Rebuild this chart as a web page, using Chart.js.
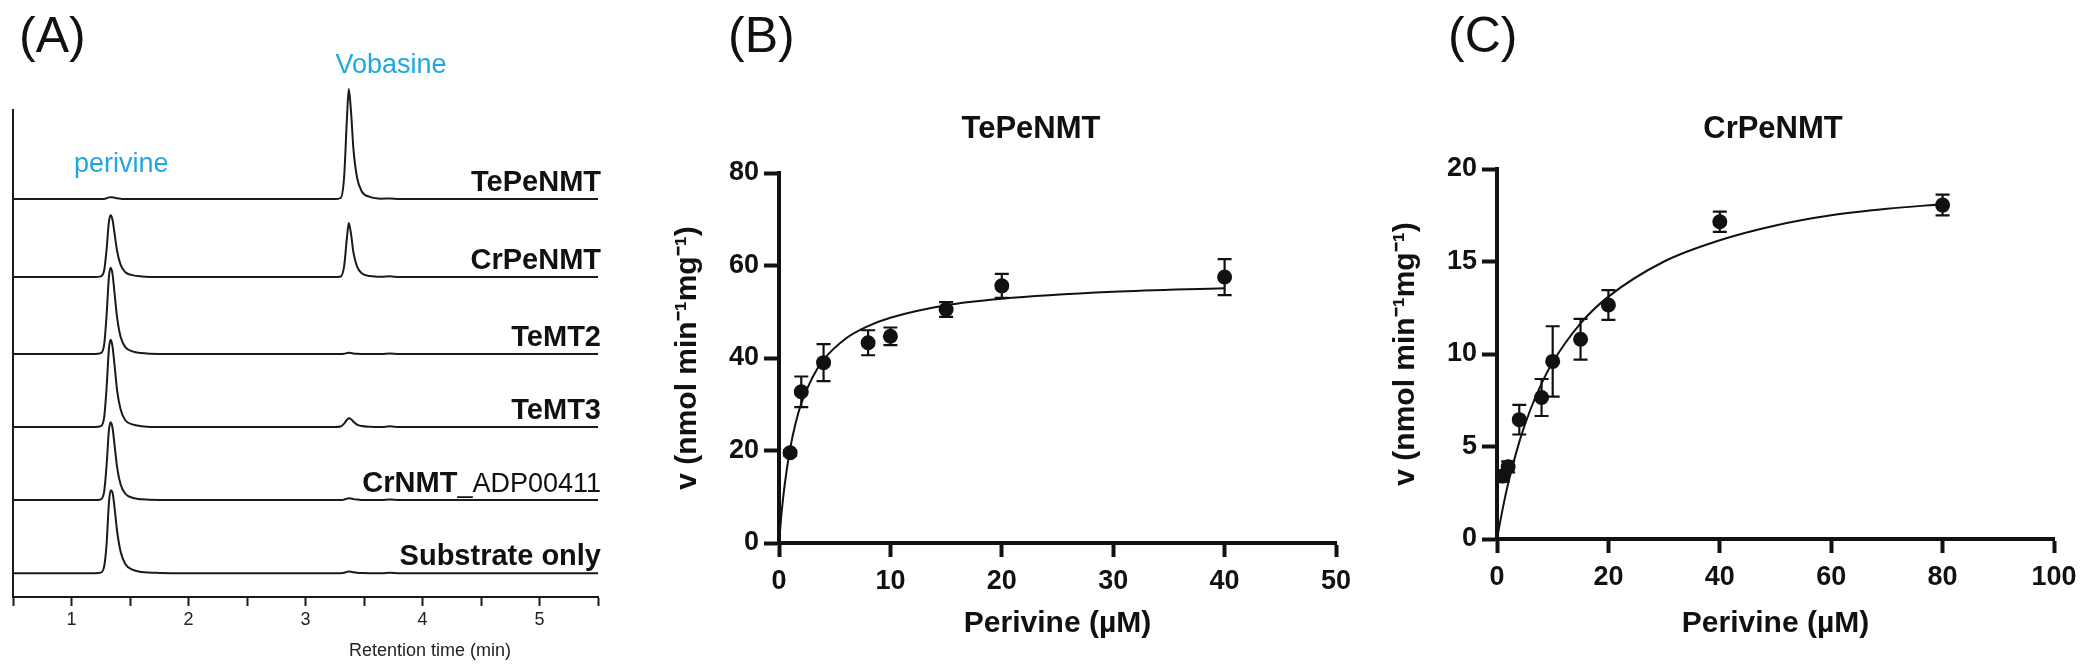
<!DOCTYPE html>
<html>
<head>
<meta charset="utf-8">
<script src="https://cdn.jsdelivr.net/npm/chart.js@4.4.1/dist/chart.umd.min.js"></script>
<style>
  html, body { margin: 0; padding: 0; background: #fff; }
  body { width: 2089px; height: 672px; position: relative; overflow: hidden; }
  .panel { position: absolute; top: 0; height: 672px; }
  #panelA { left: 0; width: 620px; }
  #panelB { left: 640px; width: 720px; }
  #panelC { left: 1360px; width: 729px; }
</style>
</head>
<body>
<div class="panel" id="panelA"><canvas id="chartA"></canvas></div>
<div class="panel" id="panelB"><canvas id="chartB"></canvas></div>
<div class="panel" id="panelC"><canvas id="chartC"></canvas></div>
<script>
// ---- (A) chromatograms: retention time (min) and trace signal (a.u.) ----
const retentionTime = [0.5, 1.2, 1.25, 1.28, 1.3, 1.32, 1.335, 1.35, 1.37, 1.39, 1.42, 1.46, 1.52, 1.6, 1.75, 2.0,
  3.25, 3.3, 3.33, 3.355, 3.37, 3.39, 3.41, 3.44, 3.48, 3.55, 3.65, 3.72, 3.8, 5.5];
const traceNames = ["TePeNMT", "CrPeNMT", "TeMT2", "TeMT3", "CrNMT_ADP00411", "Substrate only"];
const traceOffsets = [81.7, 65.7, 49.9, 34.9, 19.9, 4.9];
const traceTePeNMT = [0, 0, 0, 0.05, 0.18, 0.36, 0.4, 0.37, 0.27, 0.17, 0.08, 0.03, 0.01, 0, 0, 0,
  0, 0.23, 4.5, 17.0, 22.6, 17.6, 10.2, 4.5, 1.6, 0.45, 0.1, 0.15, 0, 0];
const traceCrPeNMT = [0, 0, 0.13, 1.5, 5.7, 11.4, 12.7, 11.8, 8.6, 5.3, 2.5, 1.0, 0.4, 0.13, 0, 0,
  0, 0.11, 2.2, 8.3, 11.1, 8.7, 5.0, 2.2, 0.8, 0.22, 0.06, 0.15, 0, 0];
const traceTeMT2 = [0, 0, 0.18, 2.1, 8.0, 15.9, 17.7, 16.5, 12.0, 7.4, 3.5, 1.4, 0.53, 0.18, 0, 0,
  0, 0, 0.05, 0.19, 0.25, 0.2, 0.11, 0.05, 0.02, 0, 0, 0.1, 0, 0];
const traceTeMT3 = [0, 0, 0.18, 2.15, 8.1, 16.1, 17.9, 16.6, 12.2, 7.5, 3.6, 1.4, 0.54, 0.18, 0, 0,
  0, 0.1, 0.7, 1.5, 1.8, 1.6, 1.1, 0.5, 0.2, 0.05, 0, 0.15, 0, 0];
const traceCrNMT = [0, 0, 0.16, 1.9, 7.2, 14.4, 16.0, 14.9, 10.9, 6.7, 3.2, 1.3, 0.48, 0.16, 0, 0,
  0, 0, 0.1, 0.3, 0.4, 0.32, 0.2, 0.1, 0.03, 0, 0, 0.1, 0, 0];
const traceSubstrate = [0, 0, 0.1, 1.5, 6.0, 14.5, 17.0, 16.6, 13.0, 8.6, 4.4, 1.9, 0.7, 0.25, 0.05, 0,
  0, 0, 0.07, 0.26, 0.35, 0.27, 0.16, 0.07, 0.02, 0, 0, 0.1, 0, 0];
const traceSignals = [traceTePeNMT, traceCrPeNMT, traceTeMT2, traceTeMT3, traceCrNMT, traceSubstrate];

// ---- (B) TePeNMT kinetics ----
const tepenmtConc = [1, 2, 4, 8, 10, 15, 20, 40];
const tepenmtRate = [19.5, 32.7, 39.0, 43.3, 44.7, 50.5, 55.6, 57.5];
const tepenmtErr = [0.6, 3.3, 4.0, 2.7, 1.9, 1.6, 2.6, 3.9];
const tepenmtFitX = [0, 0.25, 0.5, 1, 1.5, 2, 3, 4, 6, 8, 10, 15, 20, 30, 40];
const tepenmtFitY = [0, 7.0, 12.4, 20.4, 26.0, 30.2, 35.8, 39.6, 44.2, 46.9, 48.7, 51.4, 52.8, 54.3, 55.1];

// ---- (C) CrPeNMT kinetics ----
const crpenmtConc = [1, 2, 4, 8, 10, 15, 20, 40, 80];
const crpenmtRate = [3.4, 3.9, 6.45, 7.65, 9.6, 10.8, 12.65, 17.15, 18.05];
const crpenmtErr = [0.3, 0.3, 0.8, 1.0, 1.9, 1.1, 0.8, 0.55, 0.56];
const crpenmtFitX = [0, 1, 2, 4, 6, 8, 10, 15, 20, 30, 40, 50, 60, 70, 80];
const crpenmtFitY = [0, 1.6, 3.0, 5.25, 7.0, 8.4, 9.55, 11.65, 13.1, 15.0, 16.15, 16.95, 17.5, 17.85, 18.1];

const FONT = "'Liberation Sans', Arial, Helvetica, sans-serif";
const INK = "#111111";
const BLUE = "#1ea8e0";

Chart.defaults.font.family = FONT;
Chart.defaults.color = INK;
Chart.defaults.animation = false;
Chart.defaults.events = [];
Chart.defaults.plugins.legend.display = false;
Chart.defaults.plugins.tooltip.enabled = false;

// free text drawn on top of a chart
function textPlugin(items) {
  return {
    id: "panelText",
    afterDraw(chart) {
      const ctx = chart.ctx;
      ctx.save();
      items.forEach(t => {
        ctx.font = t.font;
        ctx.fillStyle = t.color || INK;
        ctx.textAlign = t.align || "left";
        ctx.textBaseline = "alphabetic";
        ctx.fillText(t.text, t.x, t.y);
      });
      ctx.restore();
    }
  };
}

function errorBarPlugin(conc, rate, err) {
  return {
    id: "errorBars",
    beforeDatasetsDraw(chart) {
      const {ctx, scales: {x, y}} = chart;
      ctx.save();
      ctx.strokeStyle = INK;
      ctx.lineWidth = 2.2;
      conc.forEach((c, i) => {
        const px = x.getPixelForValue(c);
        const top = y.getPixelForValue(rate[i] + err[i]);
        const bot = y.getPixelForValue(rate[i] - err[i]);
        ctx.beginPath();
        ctx.moveTo(px, top); ctx.lineTo(px, bot);
        ctx.moveTo(px - 7, top); ctx.lineTo(px + 7, top);
        ctx.moveTo(px - 7, bot); ctx.lineTo(px + 7, bot);
        ctx.stroke();
      });
      ctx.restore();
    }
  };
}

const traceLabels = {
  id: "traceLabels",
  afterDraw(chart) {
    const {ctx, scales: {y}} = chart;
    const right = 601;
    ctx.save();
    ctx.fillStyle = INK;
    ctx.textAlign = "right";
    ctx.textBaseline = "alphabetic";
    traceNames.forEach((name, i) => {
      const py = y.getPixelForValue(traceOffsets[i]) - 8;
      if (name.indexOf("_") > 0) {
        const parts = name.split("_");
        const tail = "_" + parts[1];
        ctx.font = "27px " + FONT;
        ctx.fillText(tail, right, py);
        const w = ctx.measureText(tail).width;
        ctx.font = "bold 29px " + FONT;
        ctx.fillText(parts[0], right - w, py);
      } else {
        ctx.font = "bold 29px " + FONT;
        ctx.fillText(name, right, py);
      }
    });
    ctx.restore();
  }
};

new Chart(document.getElementById("chartA"), {
  type: "line",
  data: {
    datasets: traceSignals.map((sig, i) => ({
      label: traceNames[i],
      data: retentionTime.map((t, j) => ({x: t, y: traceOffsets[i] + sig[j]})),
      borderColor: "#1a1a1a",
      borderWidth: 2,
      pointRadius: 0,
      cubicInterpolationMode: "monotone",
      clip: false
    }))
  },
  options: {
    responsive: true,
    maintainAspectRatio: false,
    layout: {padding: {top: 110, right: 22, bottom: 0, left: 0}},
    scales: {
      x: {
        type: "linear", min: 0.5, max: 5.5,
        ticks: {
          stepSize: 0.5, autoSkip: false, maxRotation: 0, padding: 3,
          font: {size: 18}, color: "#222",
          callback: v => Math.abs(v - Math.round(v)) < 1e-6 ? String(Math.round(v)) : ""
        },
        grid: {drawOnChartArea: false, tickLength: 9, tickWidth: 2, tickColor: "#1a1a1a"},
        border: {color: "#1a1a1a", width: 2},
        afterFit: s => { s.height = 75; }
      },
      y: {
        min: 0, max: 100,
        ticks: {display: false},
        grid: {display: false},
        border: {color: "#1a1a1a", width: 2},
        afterFit: s => { s.width = 13; }
      }
    }
  },
  plugins: [traceLabels, textPlugin([
    {text: "(A)", x: 19, y: 52, font: "50px " + FONT},
    {text: "Vobasine", x: 391, y: 73, font: "27px " + FONT, color: BLUE, align: "center"},
    {text: "perivine", x: 74, y: 172, font: "27px " + FONT, color: BLUE},
    {text: "Retention time (min)", x: 430, y: 656, font: "18px " + FONT, color: "#222", align: "center"}
  ])]
});

function kineticsChart(id, opts) {
  return new Chart(document.getElementById(id), {
    type: "scatter",
    data: {
      datasets: [
        {
          label: "data",
          data: opts.conc.map((c, i) => ({x: c, y: opts.rate[i]})),
          pointRadius: 7.5,
          pointBackgroundColor: INK,
          pointBorderWidth: 0,
          clip: false
        },
        {
          label: "fit",
          data: opts.fitX.map((c, i) => ({x: c, y: opts.fitY[i]})),
          showLine: true,
          borderColor: INK,
          borderWidth: 2,
          pointRadius: 0,
          cubicInterpolationMode: "monotone",
          clip: false
        }
      ]
    },
    options: {
      responsive: true,
      maintainAspectRatio: false,
      layout: {padding: {top: opts.top, right: opts.right, bottom: 0, left: 0}},
      scales: {
        x: {
          type: "linear", min: 0, max: opts.xMax,
          ticks: {stepSize: opts.xStep, maxRotation: 0, padding: 8, font: {size: 27, weight: "bold"}, color: INK},
          grid: {drawOnChartArea: false, tickLength: 14, tickWidth: 4, tickColor: INK},
          border: {color: INK, width: 4},
          title: {display: true, text: "Perivine (µM)", font: {size: 30, weight: "bold"}, color: INK,
                  padding: {top: 0, bottom: 30}},
          afterFit: s => { s.height = opts.xHeight; }
        },
        y: {
          min: 0, max: opts.yMax,
          ticks: {stepSize: opts.yStep, padding: 5, font: {size: 27, weight: "bold"}, color: INK},
          grid: {drawOnChartArea: false, tickLength: 15, tickWidth: 4, tickColor: INK},
          border: {color: INK, width: 4},
          title: {display: true, text: "v (nmol min⁻¹mg⁻¹)", font: {size: 30, weight: "bold"}, color: INK,
                  padding: {top: opts.yTitlePad, bottom: 0}},
          afterFit: s => { s.width = opts.yWidth; }
        }
      }
    },
    plugins: [errorBarPlugin(opts.conc, opts.rate, opts.err), textPlugin(opts.texts)]
  });
}

kineticsChart("chartB", {
  conc: tepenmtConc, rate: tepenmtRate, err: tepenmtErr, fitX: tepenmtFitX, fitY: tepenmtFitY,
  xMax: 50, xStep: 10, yMax: 80, yStep: 20,
  top: 173, right: 24, xHeight: 129, yWidth: 139, yTitlePad: 30,
  texts: [
    {text: "(B)", x: 88, y: 52, font: "50px " + FONT},
    {text: "TePeNMT", x: 391, y: 138, font: "bold 31px " + FONT, align: "center"}
  ]
});

kineticsChart("chartC", {
  conc: crpenmtConc, rate: crpenmtRate, err: crpenmtErr, fitX: crpenmtFitX, fitY: crpenmtFitY,
  xMax: 100, xStep: 20, yMax: 20, yStep: 5,
  top: 169, right: 35, xHeight: 133, yWidth: 137, yTitlePad: 28,
  texts: [
    {text: "(C)", x: 88, y: 52, font: "50px " + FONT},
    {text: "CrPeNMT", x: 413, y: 138, font: "bold 31px " + FONT, align: "center"}
  ]
});
</script>
</body>
</html>
